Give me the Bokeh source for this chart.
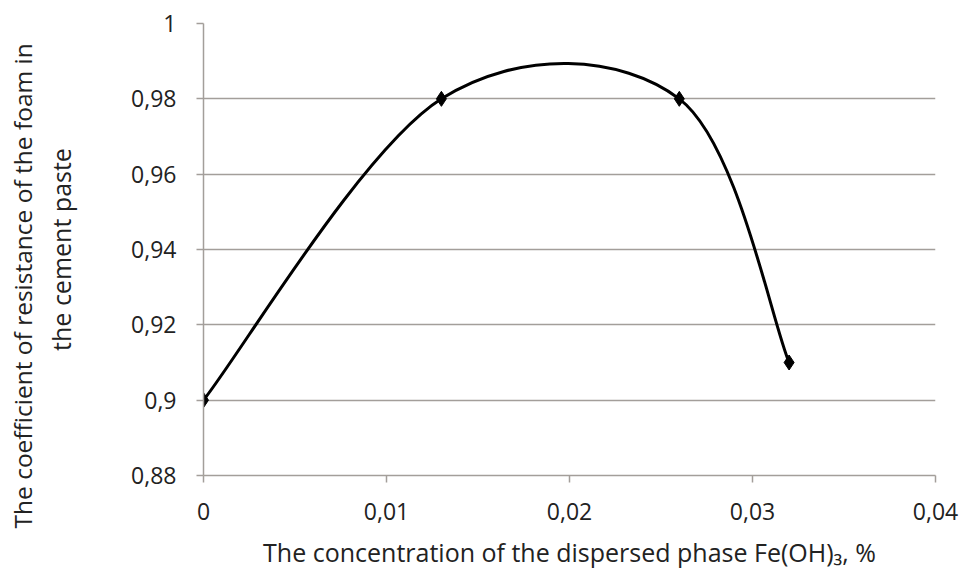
import numpy as np
from bokeh.plotting import figure
from bokeh.models import Range1d, FixedTicker, Title
from bokeh.embed import file_html
from bokeh.resources import INLINE

# ---- data ----
conc = [0.0, 0.013, 0.026, 0.032]
coef = [0.90, 0.98, 0.98, 0.91]
x_ticks = [0.0, 0.01, 0.02, 0.03, 0.04]
x_tick_labels = ["0", "0,01", "0,02", "0,03", "0,04"]
y_ticks = [0.88, 0.90, 0.92, 0.94, 0.96, 0.98, 1.0]
y_tick_labels = ["0,88", "0,9", "0,92", "0,94", "0,96", "0,98", "1"]
x_title = "The concentration of the dispersed phase Fe(OH)\u2083, %"
y_title_1 = "The coefficient of resistance of the foam in"
y_title_2 = "the cement paste"

FONT = "Open Sans"
GRID = "#a39e9a"
TXT = "#222222"

p = figure(width=961, height=572, output_backend="svg", toolbar_location=None,
           x_range=Range1d(0, 0.04), y_range=Range1d(0.88, 1.0),
           min_border_left=203, min_border_right=26, min_border_top=23,
           min_border_bottom=97)
p.outline_line_color = None
p.background_fill_color = "white"
p.border_fill_color = "white"

# axes
p.xaxis.ticker = FixedTicker(ticks=x_ticks)
p.yaxis.ticker = FixedTicker(ticks=y_ticks)
p.xaxis.major_label_overrides = {t: l for t, l in zip(x_ticks, x_tick_labels)}
p.yaxis.major_label_overrides = {t: l for t, l in zip(y_ticks, y_tick_labels)}
for ax in (p.xaxis, p.yaxis):
    ax.axis_line_color = GRID
    ax.axis_line_width = 1.5
    ax.major_tick_line_color = GRID
    ax.major_tick_line_width = 1.5
    ax.major_tick_in = 0
    ax.major_tick_out = 7
    ax.minor_tick_line_color = None
    ax.major_label_text_font = FONT
    ax.major_label_text_font_size = "23px"
    ax.major_label_text_color = TXT
p.xaxis.major_label_standoff = 20
p.yaxis.major_label_standoff = 20

p.xaxis.axis_label = x_title
p.xaxis.axis_label_text_font = FONT
p.xaxis.axis_label_text_font_size = "25px"
p.xaxis.axis_label_text_font_style = "normal"
p.xaxis.axis_label_text_color = TXT
p.xaxis.axis_label_standoff = 12

# y-axis title, two lines: second line as the axis label, first as a title
p.yaxis.axis_label = y_title_2
p.yaxis.axis_label_text_font = FONT
p.yaxis.axis_label_text_font_size = "25px"
p.yaxis.axis_label_text_font_style = "normal"
p.yaxis.axis_label_text_color = TXT
p.yaxis.axis_label_standoff = 50

t1 = Title(text=y_title_1, align="left", offset=-53, standoff=6,
           text_font=FONT, text_font_size="24.5px", text_font_style="normal",
           text_color=TXT)
p.add_layout(t1, "left")

p.xgrid.grid_line_color = None
p.ygrid.grid_line_color = GRID
p.ygrid.grid_line_width = 1.5

# smoothed curve (Catmull-Rom style Bezier segments through data points)
xs = np.array(conc)
ys = np.array(coef)
n = len(xs)
x0, y0, x1, y1, cx0, cy0, cx1, cy1 = [], [], [], [], [], [], [], []
for i in range(n - 1):
    pxm = xs[i - 1] if i > 0 else xs[i]
    pym = ys[i - 1] if i > 0 else ys[i]
    pxp = xs[i + 2] if i + 2 < n else xs[i + 1]
    pyp = ys[i + 2] if i + 2 < n else ys[i + 1]
    x0.append(xs[i]); y0.append(ys[i]); x1.append(xs[i + 1]); y1.append(ys[i + 1])
    cx0.append(xs[i] + (xs[i + 1] - pxm) / 6); cy0.append(ys[i] + (ys[i + 1] - pym) / 6)
    cx1.append(xs[i + 1] - (pxp - xs[i]) / 6); cy1.append(ys[i + 1] - (pyp - ys[i]) / 6)
p.bezier(x0=x0, y0=y0, x1=x1, y1=y1, cx0=cx0, cy0=cy0, cx1=cx1, cy1=cy1,
         line_color="black", line_width=3)
p.scatter(conc, coef, marker="diamond", size=15, fill_color="black", line_color="black")

open("out.html", "w").write(file_html(p, INLINE))
